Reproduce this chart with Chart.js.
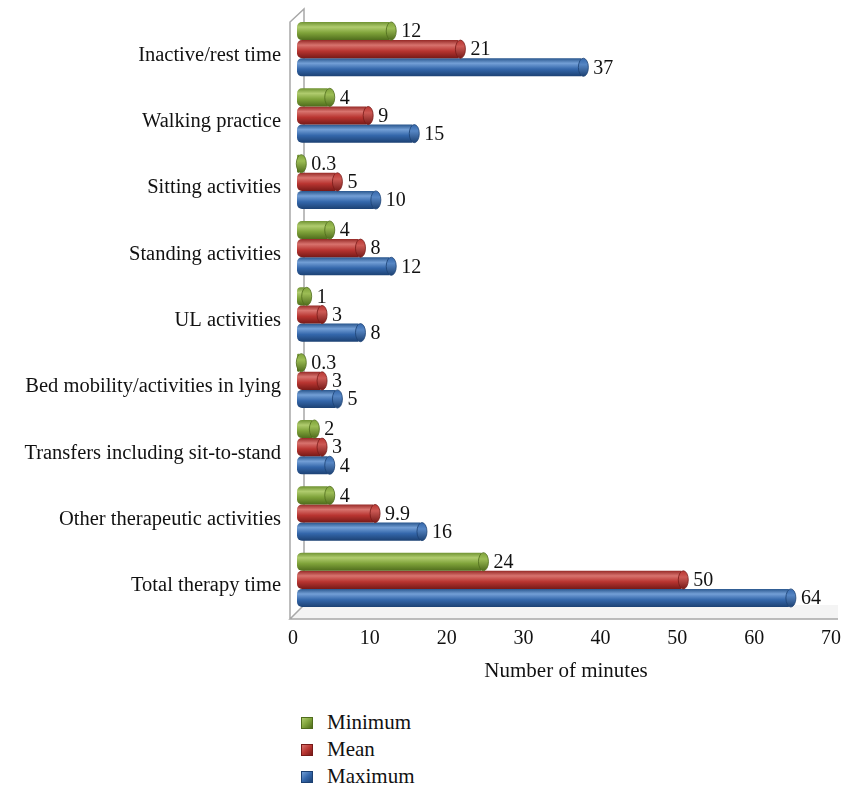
<!DOCTYPE html>
<html>
<head>
<meta charset="utf-8">
<script src="https://cdn.jsdelivr.net/npm/chart.js@4.4.0/dist/chart.umd.min.js"></script>
<style>
  html, body { margin: 0; padding: 0; background: #fff; }
  #wrap { position: relative; width: 848px; height: 786px; }
  #chart { position: absolute; left: 0; top: 0; }
  #legend { position: absolute; left: 301px; top: 709px; font-family: "Liberation Serif", serif; font-size: 21px; color: #111; }
  .item { height: 27px; line-height: 27px; display: flex; align-items: center; }
  .box { width: 12px; height: 12px; margin-right: 14px; box-sizing: border-box; }
</style>
</head>
<body>
<div id="wrap">
  <canvas id="chart" width="848" height="700"></canvas>
  <div id="legend"></div>
</div>
<script>
// dati
const categories = [
  'Inactive/rest time',
  'Walking practice',
  'Sitting activities',
  'Standing activities',
  'UL activities',
  'Bed mobility/activities in lying',
  'Transfers including sit-to-stand',
  'Other therapeutic activities',
  'Total therapy time'
];
const seriesNames = ['Minimum', 'Mean', 'Maximum'];
const minimumValues = [12, 4, 0.3, 4, 1, 0.3, 2, 4, 24];
const meanValues = [21, 9, 5, 8, 3, 3, 3, 9.9, 50];
const maximumValues = [37, 15, 10, 12, 8, 5, 4, 16, 64];
const xTicks = [0, 10, 20, 30, 40, 50, 60, 70];

// colori tipo cilindro (bordo, luce, base, scuro)
const shades = [
  { edge: '#6f9232', light: '#b0cc6e', base: '#7fa33a', dark: '#4f6c1c', cap: '#9cbd55' },
  { edge: '#962a27', light: '#d8736e', base: '#b93531', dark: '#771a18', cap: '#cc5954' },
  { edge: '#28558c', light: '#739fd6', base: '#3467ab', dark: '#1c4173', cap: '#5686c4' }
];
const serif = '"Liberation Serif", serif';

function makeGradient(ctx, top, bottom, s) {
  const g = ctx.createLinearGradient(0, top, 0, bottom);
  g.addColorStop(0, s.edge);
  g.addColorStop(0.28, s.light);
  g.addColorStop(0.6, s.base);
  g.addColorStop(1, s.dark);
  return g;
}

const cylinderPlugin = {
  id: 'cylinder',
  beforeDraw(chart) {
    // cornice 3D (parete e pavimento)
    const { ctx, chartArea: a } = chart;
    ctx.save();
    ctx.fillStyle = '#f4f4f4';
    ctx.beginPath();
    ctx.moveTo(a.left - 7, a.bottom + 6);
    ctx.lineTo(a.left + 7, a.bottom - 8);
    ctx.lineTo(a.right + 3, a.bottom - 8);
    ctx.lineTo(a.right + 3, a.bottom + 6);
    ctx.closePath();
    ctx.fill();
    ctx.strokeStyle = '#a8a8a8';
    ctx.lineWidth = 1.5;
    ctx.beginPath();
    ctx.moveTo(a.left - 7, a.bottom + 6);
    ctx.lineTo(a.left - 7, a.top + 6);
    ctx.lineTo(a.left + 7, a.top - 7);
    ctx.lineTo(a.left + 7, a.bottom - 8);
    ctx.lineTo(a.left - 7, a.bottom + 6);
    ctx.lineTo(a.right + 3, a.bottom + 6);
    ctx.stroke();
    ctx.restore();
  },
  beforeDatasetsDraw(chart) {
    const ctx = chart.ctx;
    chart.data.datasets.forEach((ds, i) => {
      chart.getDatasetMeta(i).data.forEach(bar => {
        const g = makeGradient(ctx, bar.y - bar.height / 2, bar.y + bar.height / 2, shades[i]);
        bar.options = Object.assign({}, bar.options, { backgroundColor: g });
      });
    });
  },
  afterDatasetsDraw(chart) {
    const ctx = chart.ctx;
    ctx.save();
    chart.data.datasets.forEach((ds, i) => {
      const s = shades[i];
      chart.getDatasetMeta(i).data.forEach((bar, j) => {
        const h = bar.height / 2;
        const cx = bar.x + 2;
        const g = ctx.createLinearGradient(0, bar.y - h, 0, bar.y + h);
        g.addColorStop(0, s.base);
        g.addColorStop(0.35, s.cap);
        g.addColorStop(1, s.dark);
        ctx.beginPath();
        ctx.ellipse(cx, bar.y, 5, h, 0, 0, Math.PI * 2);
        ctx.fillStyle = g;
        ctx.fill();
        ctx.strokeStyle = s.dark;
        ctx.lineWidth = 0.8;
        ctx.stroke();
        // etichetta valore
        ctx.fillStyle = '#111';
        ctx.font = '20px ' + serif;
        ctx.textAlign = 'left';
        ctx.textBaseline = 'middle';
        ctx.fillText(String(ds.data[j]), cx + 10, bar.y + 1);
      });
    });
    ctx.restore();
  }
};

const ctx = document.getElementById('chart').getContext('2d');
const chart = new Chart(ctx, {
  type: 'bar',
  data: {
    labels: categories,
    datasets: [minimumValues, meanValues, maximumValues].map((vals, i) => ({
      label: seriesNames[i],
      data: vals,
      backgroundColor: shades[i].base,
      borderWidth: 0,
      borderSkipped: false,
      borderRadius: { topLeft: 5, bottomLeft: 5, topRight: 0, bottomRight: 0 },
      barPercentage: 1.0,
      categoryPercentage: 0.82
    }))
  },
  options: {
    indexAxis: 'y',
    responsive: false,
    animation: false,
    layout: { padding: { top: 16, right: 13, left: 0, bottom: 0 } },
    plugins: {
      legend: { display: false },
      tooltip: { enabled: false }
    },
    scales: {
      x: {
        min: 0,
        max: 70,
        afterFit: scale => {
          scale.height = 87;
          scale.paddingLeft = 0;
          scale.paddingRight = 0;
        },
        afterBuildTicks: scale => { scale.ticks = xTicks.map(v => ({ value: v })); },
        grid: { display: false, drawTicks: false },
        border: { display: false },
        ticks: {
          color: '#111',
          padding: 14,
          labelOffset: -4,
          font: { family: serif, size: 20 }
        },
        title: {
          display: true,
          text: 'Number of minutes',
          color: '#111',
          padding: { top: 4, bottom: 16 },
          font: { family: serif, size: 21 }
        }
      },
      y: {
        afterFit: scale => {
          scale.width = 297;
          scale.paddingTop = 0;
          scale.paddingBottom = 0;
        },
        grid: { display: false, drawTicks: false },
        border: { display: false },
        ticks: {
          color: '#111',
          padding: 16,
          labelOffset: 6,
          font: { family: serif, size: 20.5 }
        }
      }
    }
  },
  plugins: [cylinderPlugin]
});

// legenda HTML verticale
const legend = document.getElementById('legend');
seriesNames.forEach((name, i) => {
  const s = shades[i];
  const item = document.createElement('div');
  item.className = 'item';
  const box = document.createElement('span');
  box.className = 'box';
  box.style.background = 'linear-gradient(135deg, ' + s.light + ', ' + s.base + ' 50%, ' + s.dark + ')';
  box.style.border = '1px solid ' + s.dark;
  const txt = document.createElement('span');
  txt.textContent = name;
  item.appendChild(box);
  item.appendChild(txt);
  legend.appendChild(item);
});
</script>
</body>
</html>
